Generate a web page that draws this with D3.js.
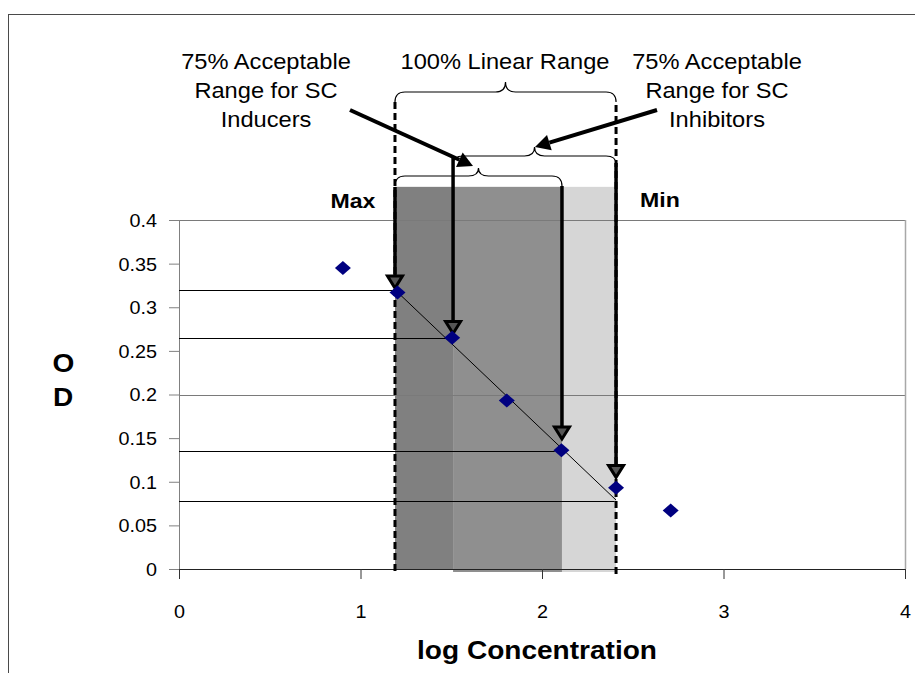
<!DOCTYPE html>
<html><head><meta charset="utf-8">
<script src="https://cdn.jsdelivr.net/npm/d3@7"></script>
<style>
body{margin:0;background:#fff}
svg{display:block}
text{font-family:"Liberation Sans",Arial,Helvetica,sans-serif;fill:#000}
</style>
</head><body>
<svg id="chart" width="915" height="673"></svg>
<script>
// ---- data ----
const logConc = [0.903, 1.204, 1.505, 1.806, 2.107, 2.408, 2.709];
const odValues = [0.345, 0.317, 0.265, 0.193, 0.136, 0.093, 0.067];
const xTickValues = [0, 1, 2, 3, 4];
const xTickLabels = ["0", "1", "2", "3", "4"];
const yTickValues = [0, 0.05, 0.1, 0.15, 0.2, 0.25, 0.3, 0.35, 0.4];
const yTickLabels = ["0", "0.05", "0.1", "0.15", "0.2", "0.25", "0.3", "0.35", "0.4"];
const gridValues = [0.2, 0.4];
// reference (read-off) lines: x end, OD level
const refX = [1.19, 1.49, 2.07, 2.40];
const refOD = [0.320, 0.265, 0.135, 0.078];
// trend line through linear range
const trendX = [1.19, 2.408];
const trendOD = [0.320, 0.079];
// shaded bands (log concentration edges)
const bandEdges = [1.19, 1.51, 2.11, 2.408];
const bandTopOD = 0.438;
// ranges for braces
const linearRange = [1.19, 2.408];
const inducerRange = [1.19, 2.11];
const inhibitorRange = [1.51, 2.408];
// vertical arrows: x and OD of tip
const arrowX = [1.19, 1.51, 2.11, 2.408];
const arrowTipOD = [0.322, 0.270, 0.149, 0.105];
const inducerText = ["75% Acceptable", "Range for SC", "Inducers"];
const inhibitorText = ["75% Acceptable", "Range for SC", "Inhibitors"];
const linearText = "100% Linear Range";

// ---- layout ----
const svg = d3.select("#chart");
const SX = 1.1;
const x = d3.scaleLinear().domain([0, 4]).range([179, 905]);
const y = d3.scaleLinear().domain([0, 0.4]).range([569, 220]);
const bandColors = ["#808080", "#8f8f8f", "#d6d6d6"];
const crisp = v => Math.round(v) + 0.5;

// outer chart frame
svg.append("rect").attr("x", 8.5).attr("y", 14.5).attr("width", 1000).attr("height", 1000)
  .attr("fill", "none").attr("stroke", "#4a4a4a").attr("stroke-width", 1);

// shaded bands
svg.append("g").selectAll("rect").data(d3.pairs(bandEdges)).join("rect")
  .attr("x", d => x(d[0])).attr("width", d => x(d[1]) - x(d[0]))
  .attr("y", y(bandTopOD)).attr("height", (d, i) => y(0) - y(bandTopOD) + (i > 0 ? 3 : 0))
  .attr("fill", (d, i) => bandColors[i]);

// gridlines
svg.append("g").selectAll("line").data(gridValues).join("line")
  .attr("x1", x(0)).attr("x2", x(4)).attr("y1", d => crisp(y(d))).attr("y2", d => crisp(y(d)))
  .attr("stroke", "#7a7a7a").attr("stroke-width", 1);
// plot area right border
svg.append("line").attr("x1", crisp(x(4))).attr("x2", crisp(x(4))).attr("y1", y(0.4)).attr("y2", y(0))
  .attr("stroke", "#a8a8a8").attr("stroke-width", 1.5);

// axes
const yAxis = svg.append("g").attr("transform", `translate(${x(0)},0)`)
  .call(d3.axisLeft(y).tickValues(yTickValues).tickSize(10).tickPadding(12)
    .tickFormat((d, i) => yTickLabels[i]));
yAxis.select(".domain").attr("stroke", "#808080").attr("d", `M0.5,${y(0.4)}V${y(0) + 10}`);
yAxis.selectAll(".tick line").attr("stroke", "#808080");
yAxis.selectAll(".tick text").attr("font-size", 18).attr("font-family", null)
  .attr("x", -22 / SX).attr("dy", "0.36em").attr("transform", `scale(${SX},1)`);

const xAxis = svg.append("g").attr("transform", `translate(0,${y(0)})`)
  .call(d3.axisBottom(x).tickValues(xTickValues).tickSize(10).tickPadding(26)
    .tickFormat((d, i) => xTickLabels[i]));
xAxis.select(".domain").attr("stroke", "#222").attr("d", `M${x(0)},0.5H${x(4)}`);
xAxis.selectAll(".tick line").attr("stroke", "#333");
xAxis.selectAll(".tick text").attr("font-size", 18).attr("font-family", null)
  .attr("transform", `scale(${SX},1)`).attr("x", 0);

// reference horizontal lines
svg.append("g").selectAll("line").data(refX).join("line")
  .attr("x1", x(0)).attr("x2", d => x(d)).attr("y1", (d, i) => crisp(y(refOD[i]))).attr("y2", (d, i) => crisp(y(refOD[i])))
  .attr("stroke", "#000").attr("stroke-width", 1);

// trend line
svg.append("line").attr("x1", x(trendX[0])).attr("y1", y(trendOD[0]))
  .attr("x2", x(trendX[1])).attr("y2", y(trendOD[1]))
  .attr("stroke", "#000").attr("stroke-width", 1);

// dashed boundary lines
svg.append("line").attr("x1", x(linearRange[0])).attr("x2", x(linearRange[0])).attr("y1", 102).attr("y2", 571)
  .attr("stroke", "#000").attr("stroke-width", 3).attr("stroke-dasharray", "7,4");
svg.append("line").attr("x1", x(linearRange[1])).attr("x2", x(linearRange[1])).attr("y1", 105).attr("y2", 575)
  .attr("stroke", "#000").attr("stroke-width", 3).attr("stroke-dasharray", "7,4");

// braces
function brace(x1, x2, yTip, yMid, yEnd) {
  const xm = (x1 + x2) / 2, r = Math.min(10, (x2 - x1) / 6);
  return `M${x1},${yEnd} Q${x1},${yMid} ${x1 + r},${yMid} L${xm - r},${yMid} Q${xm},${yMid} ${xm},${yTip} ` +
         `Q${xm},${yMid} ${xm + r},${yMid} L${x2 - r},${yMid} Q${x2},${yMid} ${x2},${yEnd}`;
}
const braceG = svg.append("g").attr("fill", "none").attr("stroke", "#000").attr("stroke-width", 1.2);
braceG.append("path").attr("d", brace(x(linearRange[0]), x(linearRange[1]), 82, 92, 102));
braceG.append("path").attr("d", brace(x(inhibitorRange[0]), x(inhibitorRange[1]), 147, 156, 164));
braceG.append("path").attr("d", brace(x(inducerRange[0]), x(inducerRange[1]), 168, 176, 186));

// vertical arrows with open heads
const arrowStartY = [187, 158, 186, 163];
const vg = svg.append("g");
arrowX.forEach((ax, i) => {
  const px = x(ax), tip = y(arrowTipOD[i]);
  vg.append("line").attr("x1", px).attr("x2", px).attr("y1", arrowStartY[i]).attr("y2", tip - 12)
    .attr("stroke", "#000").attr("stroke-width", 3.5);
  vg.append("path").attr("d", `M${px - 7.5},${tip - 12} L${px + 7.5},${tip - 12} L${px},${tip} Z`)
    .attr("fill", "#555").attr("stroke", "#000").attr("stroke-width", 3).attr("stroke-linejoin", "miter");
});

// diagonal arrows with filled heads
function diagArrow(x1, y1, x2, y2) {
  const dx = x2 - x1, dy = y2 - y1, L = Math.hypot(dx, dy), ux = dx / L, uy = dy / L;
  const hl = 15, hw = 8;
  const bx = x2 - ux * hl, by = y2 - uy * hl;
  svg.append("line").attr("x1", x1).attr("y1", y1).attr("x2", bx).attr("y2", by)
    .attr("stroke", "#000").attr("stroke-width", 4);
  svg.append("path").attr("d", `M${x2},${y2} L${bx - uy * hw},${by + ux * hw} L${bx + uy * hw},${by - ux * hw} Z`)
    .attr("fill", "#000");
}
diagArrow(350, 110, 473, 166);
diagArrow(657, 110, 535, 147);

// data points
svg.append("g").selectAll("path").data(logConc).join("path")
  .attr("transform", (d, i) => `translate(${x(d)},${y(odValues[i])})`)
  .attr("d", "M0,-7L8,0L0,7L-8,0Z").attr("fill", "#000080");

// texts
function label(t, cx, by, size, bold) {
  svg.append("text").attr("transform", `translate(${cx},${by}) scale(${SX},1)`)
    .attr("text-anchor", "middle").attr("font-size", size).attr("font-weight", bold ? "bold" : "normal").text(t);
}
const lineY = [69, 97.5, 126.5];
inducerText.forEach((t, i) => label(t, 266, lineY[i], 21.5));
inhibitorText.forEach((t, i) => label(t, 717, lineY[i], 21.5));
label(linearText, 505, 69, 21.5);
label("Max", 353, 208, 21, true);
label("Min", 660, 207, 21, true);
label("log Concentration", 537, 659, 25.5, true);
label("O", 63.5, 372, 25.5, true);
label("D", 63, 406, 25.5, true);
</script>
</body></html>
